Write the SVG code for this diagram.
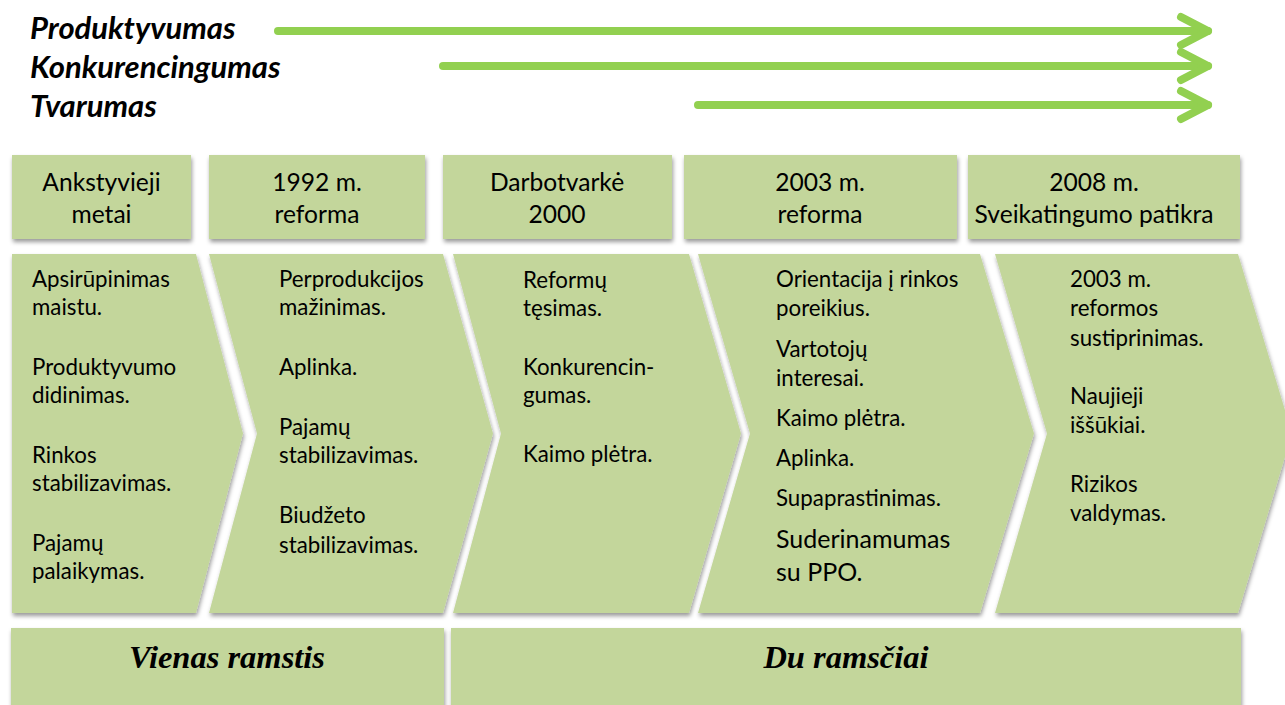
<svg xmlns="http://www.w3.org/2000/svg" width="1285" height="705" viewBox="0 0 1285 705">
<defs>
<style>
.box{fill:#C3D69B;filter:url(#sh)}
.hd{font-family:Lato,"Liberation Sans",sans-serif;font-size:24.6px;text-anchor:middle;fill:#000}
.bd{font-family:Lato,"Liberation Sans",sans-serif;font-size:22.3px;fill:#000}
.big{font-size:25px}
.ttl{font-family:Lato,"Liberation Sans",sans-serif;font-size:31px;font-weight:bold;font-style:italic;fill:#000}
.pil{font-family:"Liberation Serif",serif;font-size:32.5px;font-weight:bold;font-style:italic;text-anchor:middle;fill:#000}
.arr{fill:none;stroke:#92D050;stroke-width:8;stroke-linecap:round;stroke-linejoin:round}
</style>
<filter id="sh" x="-5%" y="-5%" width="112%" height="120%">
<feDropShadow dx="1" dy="3" stdDeviation="2" flood-color="#000" flood-opacity="0.4"/>
</filter>
<marker id="head" markerUnits="userSpaceOnUse" viewBox="-34 -20 40 40" markerWidth="40" markerHeight="40" refX="0" refY="0" orient="auto" overflow="visible">
<path d="M-27,-14 L0,0 L-27,14" fill="none" stroke="#92D050" stroke-width="8" stroke-linecap="round" stroke-linejoin="round"/>
</marker>
</defs>
<rect width="1285" height="705" fill="#fff"/>

<g id="titles">
<text class="ttl" x="30" y="39">Produktyvumas</text>
<text class="ttl" x="30" y="78">Konkurencingumas</text>
<text class="ttl" x="30" y="117">Tvarumas</text>
</g>

<g id="connectors">
<path class="arr" d="M278,31 H1208" marker-end="url(#head)"/>
<path class="arr" d="M443,66 H1208" marker-end="url(#head)"/>
<path class="arr" d="M698,105 H1208" marker-end="url(#head)"/>
</g>

<g id="h1"><rect class="box" x="12" y="155" width="179" height="84"/>
<text class="hd" y="191"><tspan x="101.5">Ankstyvieji</tspan><tspan x="101.5" y="223">metai</tspan></text></g>
<g id="h2"><rect class="box" x="209" y="155" width="216" height="84"/>
<text class="hd" y="191"><tspan x="317">1992 m.</tspan><tspan x="317" y="223">reforma</tspan></text></g>
<g id="h3"><rect class="box" x="443" y="155" width="229" height="84"/>
<text class="hd" y="191"><tspan x="557">Darbotvarkė</tspan><tspan x="557" y="223">2000</tspan></text></g>
<g id="h4"><rect class="box" x="684" y="155" width="273" height="84"/>
<text class="hd" y="191"><tspan x="820">2003 m.</tspan><tspan x="820" y="223">reforma</tspan></text></g>
<g id="h5"><rect class="box" x="968" y="155" width="272" height="84"/>
<text class="hd" y="191"><tspan x="1094">2008 m.</tspan><tspan x="1094" y="223">Sveikatingumo patikra</tspan></text></g>

<g id="c1"><path class="box" d="M12,254 H196 L243,433.5 L196,613 H12 Z"/>
<text class="bd"><tspan x="32" y="287">Apsirūpinimas</tspan><tspan x="32" y="315">maistu.</tspan><tspan x="32" y="375">Produktyvumo</tspan><tspan x="32" y="403">didinimas.</tspan><tspan x="32" y="463">Rinkos</tspan><tspan x="32" y="491">stabilizavimas.</tspan><tspan x="32" y="551">Pajamų</tspan><tspan x="32" y="579">palaikymas.</tspan></text></g>

<g id="c2"><path class="box" d="M209,254 H443 L493,433.5 L443,613 H209 L257,433.5 Z"/>
<text class="bd"><tspan x="279" y="287">Perprodukcijos</tspan><tspan x="279" y="315">mažinimas.</tspan><tspan x="279" y="375">Aplinka.</tspan><tspan x="279" y="435">Pajamų</tspan><tspan x="279" y="463">stabilizavimas.</tspan><tspan x="279" y="523">Biudžeto</tspan><tspan x="279" y="553">stabilizavimas.</tspan></text></g>

<g id="c3"><path class="box" d="M453,254 H689 L741,433.5 L689,613 H453 L501,433.5 Z"/>
<text class="bd"><tspan x="523" y="288">Reformų</tspan><tspan x="523" y="316">tęsimas.</tspan><tspan x="523" y="375">Konkurencin-</tspan><tspan x="523" y="403">gumas.</tspan><tspan x="523" y="462">Kaimo plėtra.</tspan></text></g>

<g id="c4"><path class="box" d="M698,254 H980 L1034,433.5 L980,613 H698 L750,433.5 Z"/>
<text class="bd"><tspan x="776" y="287">Orientacija į rinkos</tspan><tspan x="776" y="316">poreikius.</tspan><tspan x="776" y="357">Vartotojų</tspan><tspan x="776" y="386">interesai.</tspan><tspan x="776" y="426">Kaimo plėtra.</tspan><tspan x="776" y="466">Aplinka.</tspan><tspan x="776" y="506">Supaprastinimas.</tspan><tspan class="big" x="776" y="548">Suderinamumas</tspan><tspan class="big" x="776" y="581">su PPO.</tspan></text></g>

<g id="c5"><path class="box" d="M995,254 H1238 L1292,433.5 L1238,613 H995 L1047,433.5 Z"/>
<text class="bd"><tspan x="1070" y="287">2003 m.</tspan><tspan x="1070" y="316">reformos</tspan><tspan x="1070" y="346">sustiprinimas.</tspan><tspan x="1070" y="404">Naujieji</tspan><tspan x="1070" y="433">iššūkiai.</tspan><tspan x="1070" y="492">Rizikos</tspan><tspan x="1070" y="521">valdymas.</tspan></text></g>

<g id="p1"><rect class="box" x="11" y="628" width="433" height="90"/>
<text class="pil" x="227" y="668">Vienas ramstis</text></g>
<g id="p2"><rect class="box" x="451" y="628" width="790" height="90"/>
<text class="pil" x="846" y="668">Du ramsčiai</text></g>
</svg>
